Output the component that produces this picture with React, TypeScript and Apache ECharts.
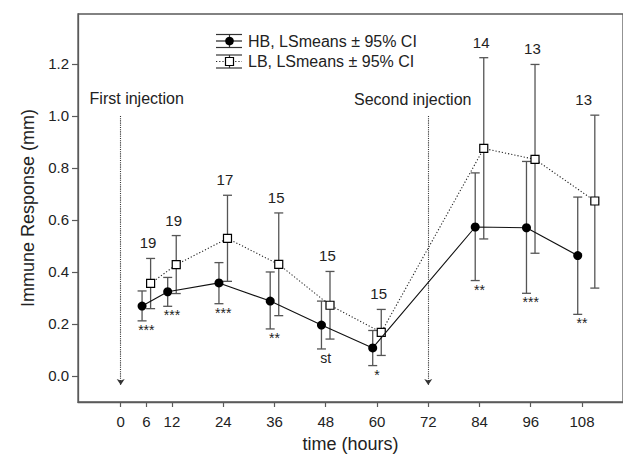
import React, { useEffect, useRef } from "react";
import * as echarts from "echarts";

// Sampling times (hours) and least-squares means with 95% confidence limits
const times = [6, 12, 24, 36, 48, 60, 84, 96, 108];
const hbMean = [0.269, 0.324, 0.358, 0.288, 0.196, 0.108, 0.573, 0.57, 0.463];
const hbLow = [0.212, 0.268, 0.278, 0.181, 0.104, 0.04, 0.367, 0.318, 0.237];
const hbHigh = [0.327, 0.379, 0.436, 0.4, 0.288, 0.175, 0.781, 0.825, 0.688];
const lbMean = [0.356, 0.428, 0.529, 0.429, 0.272, 0.168, 0.875, 0.833, 0.673];
const lbLow = [0.259, 0.317, 0.364, 0.232, 0.142, 0.079, 0.527, 0.472, 0.338];
const lbHigh = [0.452, 0.54, 0.695, 0.627, 0.402, 0.256, 1.224, 1.198, 1.003];
const nCounts = ["19", "19", "17", "15", "15", "15", "14", "13", "13"];
const signif = ["***", "***", "***", "**", "st", "*", "**", "***", "**"];

const xTicks = [0, 6, 12, 24, 36, 48, 60, 72, 84, 96, 108];
const yTicks = [0, 0.2, 0.4, 0.6, 0.8, 1.0, 1.2];
const injectionTimes = [0, 72];
const injectionLabels = ["First injection", "Second injection"];

const FONT = "'Liberation Sans', Arial, Helvetica, sans-serif";
const TEXT = "#222";
const AXIS = "#5a5a5a";
const BAR = "#555";

// horizontal dodge so the two groups' bars don't overlap
const hbX = (t: number) => t - 1;
const lbX = (t: number) => (t === 108 ? t + 3 : t + 1);

const errorBarRender = (params: any, api: any) => {
  const x = api.value(0);
  const lo = api.coord([x, api.value(1)]);
  const hi = api.coord([x, api.value(2)]);
  const half = 4.5;
  const style = { stroke: BAR, lineWidth: 1.3 };
  return {
    type: "group",
    children: [
      { type: "line", shape: { x1: lo[0], y1: lo[1], x2: hi[0], y2: hi[1] }, style },
      { type: "line", shape: { x1: lo[0] - half, y1: lo[1], x2: lo[0] + half, y2: lo[1] }, style },
      { type: "line", shape: { x1: hi[0] - half, y1: hi[1], x2: hi[0] + half, y2: hi[1] }, style },
    ],
  };
};

function legendRow(y: number, filled: boolean, label: string) {
  const left = 216;
  const right = 242;
  const cx = 229.5;
  const capStyle = { stroke: "#333", lineWidth: 1.2 };
  return [
    { type: "line", shape: { x1: left, y1: y - 6.5, x2: right, y2: y - 6.5 }, style: capStyle },
    { type: "line", shape: { x1: left, y1: y + 6.5, x2: right, y2: y + 6.5 }, style: capStyle },
    { type: "line", shape: { x1: cx, y1: y - 6.5, x2: cx, y2: y + 6.5 }, style: capStyle },
    {
      type: "line",
      shape: { x1: left, y1: y, x2: right, y2: y },
      style: filled
        ? { stroke: "#111", lineWidth: 1.1 }
        : { stroke: "#222", lineWidth: 1.1, lineDash: [1.2, 2] },
    },
    filled
      ? { type: "circle", shape: { cx, cy: y, r: 4.3 }, style: { fill: "#000" } }
      : {
          type: "rect",
          shape: { x: cx - 4, y: y - 4, width: 8, height: 8 },
          style: { fill: "#fff", stroke: "#000", lineWidth: 1.2 },
        },
    {
      type: "text",
      x: 248,
      y,
      style: { text: label, fontSize: 16, fontFamily: FONT, fill: TEXT, verticalAlign: "middle" },
    },
  ];
}

export default function App() {
  const ref = useRef<HTMLDivElement>(null);

  useEffect(() => {
    if (!ref.current) return;
    const chart = echarts.init(ref.current, null, { renderer: "svg" });

    const textScatter = {
      type: "scatter",
      symbolSize: 0,
      silent: true,
      itemStyle: { opacity: 1, color: TEXT },
    };

    const option: any = {
      animation: false,
      textStyle: { fontFamily: FONT },
      grid: {
        left: 78,
        right: -1,
        top: 14,
        bottom: 56,
        show: true,
        borderColor: AXIS,
        borderWidth: 1.3,
      },
      xAxis: {
        type: "value",
        min: -10,
        max: 117.6,
        name: "time (hours)",
        nameLocation: "middle",
        nameGap: 33,
        nameTextStyle: { fontSize: 18, color: TEXT, fontFamily: FONT },
        axisLine: { show: true, onZero: false, lineStyle: { color: AXIS, width: 1.3 } },
        axisTick: { show: true, length: 5, customValues: xTicks, lineStyle: { color: AXIS, width: 1.2 } },
        axisLabel: { customValues: xTicks, fontSize: 15, color: TEXT, margin: 12, fontFamily: FONT },
        splitLine: { show: false },
      },
      yAxis: {
        type: "value",
        min: -0.1,
        max: 1.392,
        name: "Immune Response (mm)",
        nameLocation: "middle",
        nameGap: 41,
        nameRotate: 90,
        nameTextStyle: { fontSize: 18, color: TEXT, fontFamily: FONT },
        axisLine: { show: true, onZero: false, lineStyle: { color: AXIS, width: 1.3 } },
        axisTick: { show: true, length: 6, customValues: yTicks, lineStyle: { color: AXIS, width: 1.2 } },
        axisLabel: {
          customValues: yTicks,
          fontSize: 15,
          color: TEXT,
          margin: 9,
          fontFamily: FONT,
          formatter: (v: number) => v.toFixed(1),
        },
        splitLine: { show: false },
      },
      series: [
        {
          name: "HB bars",
          type: "custom",
          renderItem: errorBarRender,
          encode: { x: 0, y: [1, 2] },
          data: times.map((t, i) => [hbX(t), hbLow[i], hbHigh[i]]),
          z: 2,
          silent: true,
        },
        {
          name: "LB bars",
          type: "custom",
          renderItem: errorBarRender,
          encode: { x: 0, y: [1, 2] },
          data: times.map((t, i) => [lbX(t), lbLow[i], lbHigh[i]]),
          z: 2,
          silent: true,
        },
        {
          name: "LB, LSmeans ± 95% CI",
          type: "line",
          data: times.map((t, i) => [lbX(t), lbMean[i]]),
          symbol: "rect",
          symbolSize: 8,
          itemStyle: { color: "#fff", borderColor: "#000", borderWidth: 1.2 },
          lineStyle: { color: "#222", width: 1.1, type: [1.2, 2] },
          z: 4,
        },
        {
          name: "HB, LSmeans ± 95% CI",
          type: "line",
          data: times.map((t, i) => [hbX(t), hbMean[i]]),
          symbol: "circle",
          symbolSize: 9,
          itemStyle: { color: "#000" },
          lineStyle: { color: "#111", width: 1.1 },
          z: 5,
        },
        {
          ...textScatter,
          name: "n",
          data: times.map((t, i) => ({ value: [t + 0.4, lbHigh[i]], label: { formatter: nCounts[i] } })),
          label: { show: true, position: "top", distance: 8, fontSize: 15, color: TEXT, fontFamily: FONT },
        },
        {
          ...textScatter,
          name: "significance",
          data: times.map((t, i) => ({ value: [t, hbLow[i]], label: { formatter: signif[i] } })),
          label: { show: true, position: "bottom", distance: 2, fontSize: 14, color: TEXT, fontFamily: FONT },
        },
        {
          ...textScatter,
          name: "injections",
          data: injectionTimes.map((t, i) => ({
            value: [t, 1.0],
            label: { formatter: injectionLabels[i], offset: i === 0 ? [16, -17] : [-15.5, -16] },
          })),
          label: { show: true, position: "inside", fontSize: 16, color: TEXT, fontFamily: FONT },
          markLine: {
            silent: true,
            symbol: ["none", "arrow"],
            symbolSize: 6,
            label: { show: false },
            lineStyle: { color: "#333", width: 1.1, type: "dotted" },
            itemStyle: { color: "#333" },
            data: injectionTimes.map((t) => [{ coord: [t, 1.0] }, { coord: [t, -0.035] }]),
          },
        },
      ],
      graphic: [
        {
          type: "group",
          children: [
            ...legendRow(41, true, "HB, LSmeans ± 95% CI"),
            ...legendRow(61.5, false, "LB, LSmeans ± 95% CI"),
          ],
        },
      ],
    };

    chart.setOption(option);
    return () => chart.dispose();
  }, []);

  return (
    <div
      ref={ref}
      style={{ position: "fixed", left: 0, top: 0, width: 623, height: 458, background: "#fff" }}
    />
  );
}
